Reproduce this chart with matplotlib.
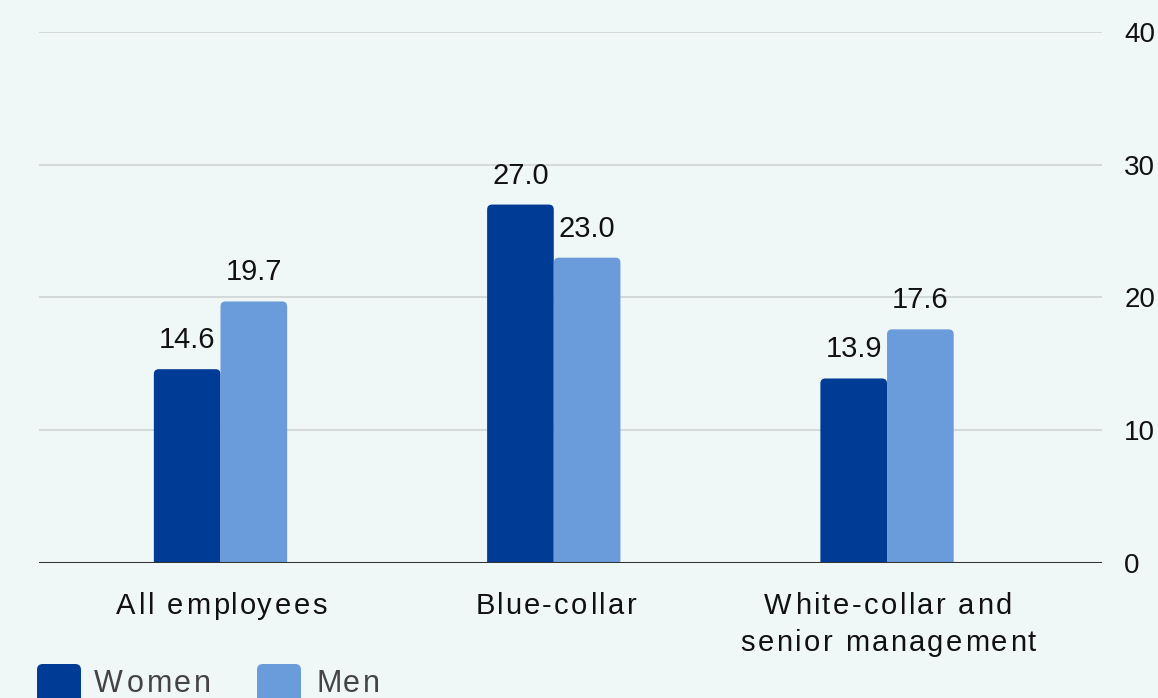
import matplotlib
matplotlib.use("Agg")
import matplotlib.pyplot as plt
from matplotlib.patches import FancyBboxPatch
from matplotlib.ft2font import FT2Font
from matplotlib.font_manager import findfont, FontProperties
import numpy as np

categories = ["All employees", "Blue-collar", "White-collar and\nsenior management"]
series = ["Women", "Men"]
women = [14.6, 27.0, 13.9]
men = [19.7, 23.0, 17.6]
yticks = [0, 10, 20, 30, 40]

W, H = 1158, 698
bg = "#f0f7f7"
c_women = "#003b95"
c_men = "#6a9bdb"
FAMILY = "Liberation Sans"

plt.rcParams["font.family"] = [FAMILY, "DejaVu Sans"]

fig = plt.figure(figsize=(W / 100, H / 100), dpi=100, facecolor=bg)
ax = fig.add_axes([39 / W, 135 / H, 1063 / W, 531 / H], facecolor=bg)

x = np.arange(len(categories))
w = 0.2
ax.set_xlim(-0.5446, 2.645)
ax.set_ylim(0, 40)

px_x = 1063 / (2.645 + 0.5446)   # pixels per x unit
px_y = 531 / 40                  # pixels per y unit
aspect = px_x / px_y


def rounded_bar(xc, h, color):
    r = 5 / px_x
    p = FancyBboxPatch((xc - w / 2, -2), w, h + 2,
                       boxstyle=f"round,pad=0,rounding_size={r}",
                       mutation_aspect=aspect, facecolor=color,
                       edgecolor="none", zorder=3)
    ax.add_patch(p)


def glyph_metrics(s, size):
    font = FT2Font(findfont(FontProperties(family=FAMILY)))
    font.set_size(size, 100)
    adv, bear = [], []
    for ch in s:
        g = font.load_char(ord(ch))
        adv.append(g.linearHoriAdvance / 65536)
        bear.append(g.horiBearingX / 64)
    return adv, bear


def tracked_text(x0, base_y, s, size, track, color, ha="center"):
    """Draw a string with extra letter spacing, baseline at pixel base_y."""
    adv, bear = glyph_metrics(s, size)
    total = sum(adv) + track * (len(s) - 1)
    pen = x0 - total / 2 if ha == "center" else x0
    for ch, a, b in zip(s, adv, bear):
        if ch != " ":
            fig.text((pen + b) / W, 1 - base_y / H, ch, fontsize=size,
                     color=color, ha="left", va="baseline")
        pen += a + track


for i in range(len(categories)):
    rounded_bar(x[i] - w / 2, women[i], c_women)
    rounded_bar(x[i] + w / 2, men[i], c_men)
    for xv, v in [(x[i] - w / 2, women[i]), (x[i] + w / 2, men[i])]:
        ax.text(xv, v + 21 / px_y, f"{v:.1f}", ha="center", va="baseline",
                fontsize=21, color="#111111", zorder=4)

for y in yticks[1:]:
    ax.axhline(y, color="#cfd3d3", lw=1.2, zorder=1)
ax.axhline(0, color="#333333", lw=2.2, zorder=5)

for s in ax.spines.values():
    s.set_visible(False)
ax.set_yticks(yticks)
ax.yaxis.tick_right()
ax.tick_params(axis="y", length=0, pad=16, labelsize=20, labelcolor="#111111")
ax.set_xticks([])

# category labels, pixel positions
for i, cat in enumerate(categories):
    xc = 39 + (x[i] + 0.5446) * px_x
    for j, line in enumerate(cat.split("\n")):
        tracked_text(xc, 614 + 37 * j, line, 21, 2.4, "#111111")

# legend along the bottom edge
for lx, lab, col in [(37, series[0], c_women), (257, series[1], c_men)]:
    fig.patches.append(FancyBboxPatch((lx / W, (H - 708) / H), 44 / W, 44 / H,
                                      boxstyle="round,pad=0,rounding_size=0.005",
                                      transform=fig.transFigure, facecolor=col,
                                      edgecolor="none", mutation_aspect=W / H))
    tracked_text(lx + 57, 692, lab, 22, 2.4, "#444444", ha="left")

fig.savefig("out.png", dpi=100, facecolor=bg)
